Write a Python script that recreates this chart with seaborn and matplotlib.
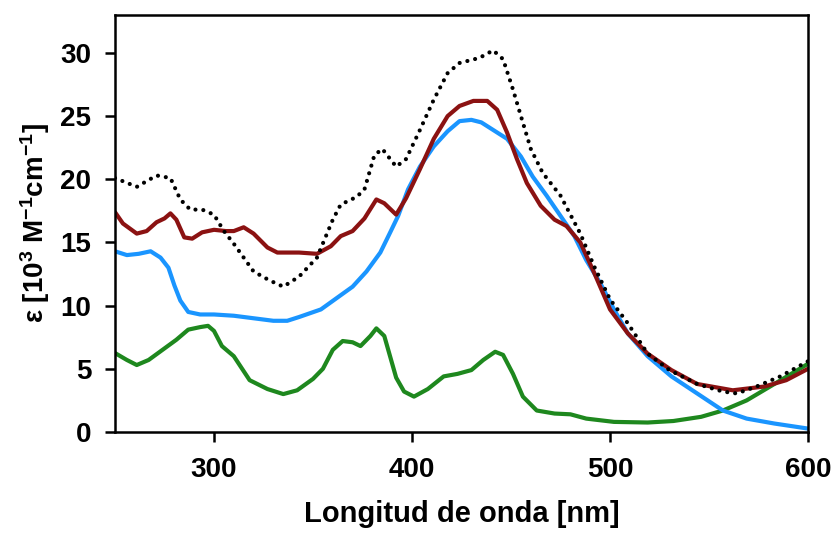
import matplotlib
matplotlib.use("Agg")
import matplotlib.pyplot as plt
import seaborn as sns
import pandas as pd

# ---- data ----
x_dot = [250, 261, 271, 278, 283, 288, 294, 300, 305, 310, 320, 328, 335, 343, 352, 360, 364, 372, 376,
         381, 385, 392, 397, 404, 411, 418, 424, 434, 441, 446, 451, 455, 460, 466, 475, 485, 492, 500,
         509, 519, 530, 544, 557, 564, 574, 586, 600]
y_dot = [20.1, 19.4, 20.3, 20.1, 18.4, 17.6, 17.6, 17.2, 15.9, 14.9, 12.7, 12.0, 11.5, 12.3, 13.8, 16.8,
         18.0, 18.6, 19.2, 21.9, 22.4, 21.0, 21.6, 23.9, 26.3, 28.4, 29.2, 29.6, 30.2, 29.5, 27.1, 25.0,
         22.4, 20.5, 18.7, 15.7, 13.1, 10.5, 8.6, 6.2, 4.9, 3.8, 3.2, 3.05, 3.6, 4.4, 5.6]

x_red = [250, 254, 261, 266, 271, 275, 278, 281, 285, 289, 294, 300, 306, 310, 315, 320, 327, 332, 338,
         343, 352, 359, 364, 370, 376, 382, 386, 392, 397, 404, 411, 418, 424, 431, 438, 443, 448, 453,
         458, 465, 472, 478, 485, 492, 500, 509, 519, 531, 544, 562, 578, 589, 600]
y_red = [17.4, 16.5, 15.7, 15.9, 16.6, 16.9, 17.3, 16.8, 15.4, 15.3, 15.8, 16.0, 15.9, 15.9, 16.2, 15.7,
         14.6, 14.2, 14.2, 14.2, 14.1, 14.7, 15.5, 15.9, 16.9, 18.4, 18.1, 17.2, 18.5, 20.8, 23.2, 25.0,
         25.8, 26.2, 26.2, 25.5, 23.7, 21.6, 19.7, 17.9, 16.8, 16.3, 15.0, 12.6, 9.7, 7.8, 6.2, 4.9, 3.8,
         3.3, 3.6, 4.1, 5.0]

x_blue = [250, 256, 262, 268, 273, 277, 280, 283, 287, 293, 300, 310, 320, 330, 337, 343, 354, 362, 370,
          377, 384, 389, 393, 398, 404, 411, 418, 424, 430, 435, 441, 448, 455, 461, 468, 475, 482, 488,
          495, 502, 509, 519, 531, 544, 557, 569, 583, 600]
y_blue = [14.3, 14.0, 14.1, 14.3, 13.8, 13.0, 11.6, 10.4, 9.5, 9.3, 9.3, 9.2, 9.0, 8.8, 8.8, 9.1, 9.7,
          10.6, 11.5, 12.7, 14.2, 15.8, 17.1, 19.2, 21.0, 22.6, 23.8, 24.6, 24.7, 24.5, 23.9, 23.2, 21.8,
          20.2, 18.7, 17.1, 15.5, 13.6, 11.8, 9.7, 7.8, 6.0, 4.4, 3.05, 1.7, 1.06, 0.67, 0.27]

x_green = [250, 256, 261, 267, 274, 281, 287, 293, 297, 300, 304, 310, 318, 327, 335, 342, 350, 355, 360,
           365, 370, 374, 379, 382, 386, 388, 390, 392, 396, 401, 408, 416, 423, 430, 436, 442, 446, 451,
           456, 463, 472, 480, 488, 502, 519, 532, 546, 557, 569, 583, 600]
y_green = [6.25, 5.7, 5.3, 5.7, 6.5, 7.3, 8.1, 8.3, 8.4, 8.0, 6.8, 6.0, 4.1, 3.4, 3.0, 3.3, 4.2, 5.0, 6.5,
           7.2, 7.1, 6.8, 7.6, 8.2, 7.6, 6.5, 5.4, 4.3, 3.2, 2.8, 3.4, 4.4, 4.6, 4.9, 5.7, 6.35, 6.1, 4.6,
           2.8, 1.7, 1.46, 1.4, 1.06, 0.8, 0.75, 0.87, 1.2, 1.7, 2.5, 3.8, 5.4]

x_ticks = [300, 400, 500, 600]
y_ticks = [0, 5, 10, 15, 20, 25, 30]
x_label = "Longitud de onda [nm]"
y_label = "ε [10$^{3}$ M$^{-1}$cm$^{-1}$]"

# ---- style ----
sns.set_theme(style="ticks")
plt.rcParams['font.family'] = ['Liberation Sans', 'DejaVu Sans']
plt.rcParams['font.weight'] = 'bold'
plt.rcParams['mathtext.fontset'] = 'custom'
plt.rcParams['mathtext.rm'] = 'Liberation Sans:bold'
plt.rcParams['mathtext.default'] = 'rm'

fig = plt.figure(figsize=(8.35, 5.33), dpi=100)
ax = fig.add_axes([0.1377, 0.1895, 0.8300, 0.7824])

sns.lineplot(x=x_green, y=y_green, ax=ax, color="#1e881e", lw=3.0, sort=False)
sns.lineplot(x=x_blue, y=y_blue, ax=ax, color="#1a95ff", lw=3.0, sort=False)
sns.lineplot(x=x_red, y=y_red, ax=ax, color="#8b1212", lw=3.0, sort=False)
sns.lineplot(x=x_dot, y=y_dot, ax=ax, color="black", lw=3.0, sort=False,
             linestyle=(0, (0.01, 1.9)), dash_capstyle='round')

ax.set_xlim(250, 600)
ax.set_ylim(0, 33)
ax.set_xticks(x_ticks)
ax.set_yticks(y_ticks)

for s in ax.spines.values():
    s.set_visible(True)
    s.set_linewidth(1.8)
    s.set_color("black")

ax.tick_params(axis='both', direction='out', length=7, width=1.8, color='black',
               labelsize=20, labelcolor='black')
ax.tick_params(axis='x', pad=11)
ax.tick_params(axis='y', pad=10)
for lab in ax.get_xticklabels() + ax.get_yticklabels():
    lab.set_fontweight('bold')

ax.set_xlabel(x_label, fontsize=21, fontweight='bold', labelpad=12, color='black')
ax.set_ylabel(y_label, fontsize=20, fontweight='bold', labelpad=6, color='black')

fig.savefig("out.png", dpi=100, facecolor="white")
